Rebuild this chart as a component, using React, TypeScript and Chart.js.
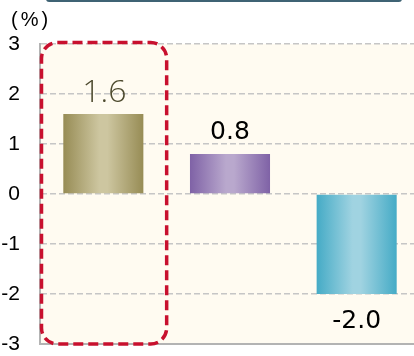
import React, { useEffect, useRef } from "react";
import { Chart, registerables } from "chart.js";

Chart.register(...registerables);

const categories = ["A", "B", "C"];
const values = [1.6, 0.8, -2.0];
const valueLabels = ["1.6", "0.8", "-2.0"];
const yTicks = [-3, -2, -1, 0, 1, 2, 3];
const unitLabel = "(%)";

const barEdge = ["#978c55", "#7f62a6", "#45abc6"];
const barMid = ["#cdc6a0", "#b9a8cd", "#a0d3e1"];
const labelColor = ["#4d4a2e", "#000000", "#000000"];
const labelFont = [
  "300 32px 'Open Sans', 'DejaVu Sans', sans-serif",
  "25px 'DejaVu Sans', sans-serif",
  "25px 'DejaVu Sans', sans-serif",
];

export default function App() {
  const ref = useRef<HTMLCanvasElement | null>(null);

  useEffect(() => {
    const canvas = ref.current;
    if (!canvas) return;

    const decor = {
      id: "decor",
      beforeDraw(chart: any) {
        const { ctx, chartArea } = chart;
        ctx.save();
        ctx.fillStyle = "#fffbf1";
        ctx.fillRect(chartArea.left, chartArea.top, chartArea.right - chartArea.left, chartArea.bottom - chartArea.top);
        ctx.fillStyle = "#3f6374";
        ctx.beginPath();
        (ctx as any).roundRect(46, -10, 356, 12, 3);
        ctx.fill();
        ctx.fillStyle = "#000";
        ctx.font = "20px 'Liberation Sans', Arial, sans-serif";
        (ctx as any).letterSpacing = "3px";
        ctx.textAlign = "left";
        ctx.textBaseline = "alphabetic";
        ctx.fillText(unitLabel, 11, 26);
        ctx.restore();
      },
      afterDatasetsDraw(chart: any) {
        const { ctx, chartArea } = chart;
        const meta = chart.getDatasetMeta(0);
        ctx.save();
        meta.data.forEach((bar: any, i: number) => {
          ctx.font = labelFont[i];
          ctx.fillStyle = labelColor[i];
          ctx.textAlign = "center";
          ctx.textBaseline = "alphabetic";
          if (values[i] >= 0) {
            ctx.fillText(valueLabels[i], bar.x + (i === 0 ? 1 : 0), bar.y - (i === 0 ? 12 : 15));
          } else {
            ctx.fillText(valueLabels[i], bar.x, bar.y + 34);
          }
        });
        const xs = chart.scales.x;
        const half = (xs.getPixelForValue(1) - xs.getPixelForValue(0)) / 2;
        const left = chartArea.left + 1.5;
        const right = xs.getPixelForValue(0) + half;
        const top = chartArea.top - 1.5;
        const bottom = chartArea.bottom;
        ctx.strokeStyle = "#c8102e";
        ctx.lineWidth = 3.5;
        ctx.setLineDash([10, 5]);
        ctx.beginPath();
        (ctx as any).roundRect(left, top, right - left, bottom - top, 16);
        ctx.stroke();
        ctx.restore();
      },
    };

    const chart = new Chart(canvas, {
      type: "bar",
      data: {
        labels: categories,
        datasets: [
          {
            data: values,
            backgroundColor: (c: any) => {
              const chartObj = c.chart;
              const i = c.dataIndex;
              const xs = chartObj.scales && chartObj.scales.x;
              if (!chartObj.chartArea || !xs || i === undefined) return barEdge[i || 0];
              const cx = xs.getPixelForValue(i);
              const step = xs.getPixelForValue(1) - xs.getPixelForValue(0);
              const w = step * 0.632;
              if (!isFinite(cx) || !isFinite(w)) return barEdge[i];
              const g = chartObj.ctx.createLinearGradient(cx - w / 2, 0, cx + w / 2, 0);
              g.addColorStop(0, barEdge[i]);
              g.addColorStop(0.45, barMid[i]);
              g.addColorStop(0.55, barMid[i]);
              g.addColorStop(1, barEdge[i]);
              return g;
            },
            borderWidth: 0,
            categoryPercentage: 1,
            barPercentage: 0.632,
          },
        ],
      },
      options: {
        responsive: false,
        animation: false,
        layout: { padding: { top: 44, bottom: 12, right: 20, left: 0 } },
        plugins: { legend: { display: false }, tooltip: { enabled: false } },
        scales: {
          x: {
            ticks: { display: false },
            grid: { display: false, drawTicks: false },
            border: { display: true, color: "#b3b3b3", width: 2 },
            afterFit: (s: any) => {
              s.height = 0;
            },
          },
          y: {
            min: -3,
            max: 3,
            afterBuildTicks: (s: any) => {
              s.ticks = yTicks.map((v) => ({ value: v }));
            },
            afterFit: (s: any) => {
              s.width = 40;
              s.paddingTop = 0;
              s.paddingBottom = 0;
            },
            ticks: {
              padding: 20,
              color: "#000",
              font: { family: "'Liberation Sans', Arial, sans-serif", size: 21 },
              callback: (v: any) => String(v),
            },
            grid: {
              drawTicks: false,
              color: "#c6c6c6",
              lineWidth: 1.5,
            },
            border: { display: true, color: "#b3b3b3", width: 2, dash: [6, 3] },
          },
        },
      },
      plugins: [decor],
    } as any);

    return () => chart.destroy();
  }, []);

  return (
    <div style={{ position: "absolute", left: 0, top: 0, width: 414, height: 356, overflow: "hidden" }}>
      <canvas ref={ref} width={440} height={356} style={{ display: "block" }} />
    </div>
  );
}
